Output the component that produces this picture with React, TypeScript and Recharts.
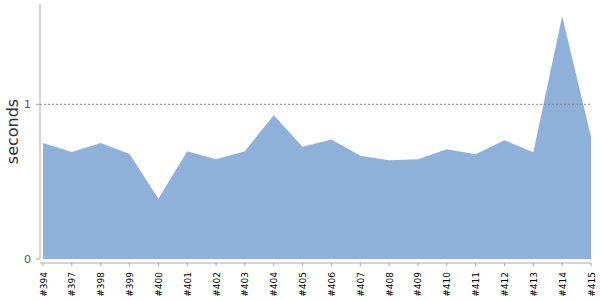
import { Area, AreaChart, ReferenceLine, XAxis, YAxis } from "recharts";

// Build number on the x axis, duration (seconds) on the y axis.
const BUILDS = [
  "#394", "#397", "#398", "#399", "#400", "#401", "#402", "#403", "#404", "#405",
  "#406", "#407", "#408", "#409", "#410", "#411", "#412", "#413", "#414", "#415",
];
const SECONDS = [
  0.75, 0.692, 0.75, 0.679, 0.389, 0.697, 0.645, 0.697, 0.929, 0.725,
  0.772, 0.667, 0.639, 0.645, 0.71, 0.677, 0.768, 0.69, 1.57, 0.789,
];
const Y_TICKS = [0, 1];
const THRESHOLD = 1;

const data = BUILDS.map((build, i) => ({ build, seconds: SECONDS[i] }));

const AXIS = "#aaa";

function BuildTick({ x, y, payload }: { x?: number; y?: number; payload?: { value: string } }) {
  return (
    <text
      transform={`translate(${(x ?? 0) + 3.5},${y ?? 0}) rotate(-90)`}
      textAnchor="end"
      fontSize={9}
      fill="#000"
    >
      {payload?.value}
    </text>
  );
}

function SecondsLabel({ viewBox }: { viewBox?: { x: number; y: number; height: number } }) {
  if (!viewBox) return null;
  const cx = viewBox.x + 17.5;
  const cy = viewBox.y + viewBox.height / 2;
  return (
    <text
      x={cx}
      y={cy}
      transform={`rotate(-90, ${cx}, ${cy})`}
      textAnchor="middle"
      fontSize={16}
      fill="#333"
    >
      seconds
    </text>
  );
}

export default function App() {
  return (
    <div style={{ position: "absolute", left: 0, top: 0, fontFamily: "DejaVu Sans" }}>
      <AreaChart
        width={600}
        height={300}
        data={data}
        margin={{ top: 4, right: 9, bottom: 0, left: 0 }}
      >
        <XAxis
          dataKey="build"
          interval={0}
          padding={{ left: 3, right: 0 }}
          height={41}
          tickSize={3}
          tickMargin={10}
          axisLine={{ stroke: AXIS, transform: "translate(0,4)" }}
          tickLine={{ stroke: AXIS, transform: "translate(0,4)" }}
          tick={<BuildTick />}
        />
        <YAxis
          width={40}
          domain={[0, (dataMax: number) => dataMax * 1.05]}
          ticks={Y_TICKS}
          tickSize={4}
          tickMargin={5}
          axisLine={{ stroke: AXIS }}
          tickLine={{ stroke: AXIS }}
          tick={{ fontSize: 11, fill: "#555" }}
          label={<SecondsLabel />}
        />
        <Area
          type="linear"
          dataKey="seconds"
          stroke="none"
          fill="#8FB0D9"
          fillOpacity={1}
          dot={false}
          activeDot={false}
          isAnimationActive={false}
        />
        <ReferenceLine y={THRESHOLD} stroke="#888" strokeDasharray="2 2" />
      </AreaChart>
    </div>
  );
}
